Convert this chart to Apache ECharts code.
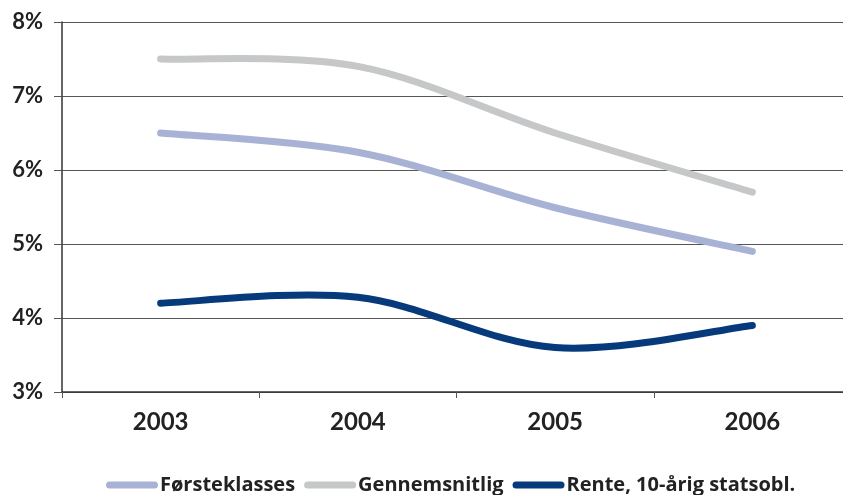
<!DOCTYPE html>
<html>
<head>
<meta charset="utf-8">
<script src="https://cdn.jsdelivr.net/npm/echarts@6/dist/echarts.min.js"></script>
<style>
html,body{margin:0;padding:0;background:#fff;}
#chart{width:843px;height:495px;}
</style>
</head>
<body>
<div id="chart"></div>
<script>
// Years on the category axis
const years = ['2003', '2004', '2005', '2006'];
// Interest rates in percent
const forsteklasses = [6.5, 6.24, 5.49, 4.9];
const gennemsnitlig = [7.5, 7.4, 6.5, 5.7];
const rente10 = [4.2, 4.28, 3.6, 3.9];
// Y axis range (percent)
const yMin = 3, yMax = 8, yStep = 1;

const font = 'Lato, "Open Sans", sans-serif';
const legendFont = '"Open Sans", Lato, sans-serif';

const chart = echarts.init(document.getElementById('chart'), null, {renderer: 'canvas'});

// Smooth curve through the points (cardinal spline, tension 1/6),
// positioned with the chart's own coordinate system.
function splineSeries(name, values, color) {
  return {
    name: name,
    type: 'custom',
    data: values.map((v, i) => [i, v]),
    encode: {x: 0, y: 1},
    itemStyle: {color: color},
    silent: true,
    renderItem: function (params, api) {
      if (params.dataIndex !== 0) return null;
      const pts = values.map((v, i) => api.coord([i, v]));
      const n = pts.length;
      let d = 'M' + pts[0][0] + ',' + pts[0][1];
      for (let i = 0; i < n - 1; i++) {
        const p0 = pts[Math.max(i - 1, 0)], p1 = pts[i], p2 = pts[i + 1], p3 = pts[Math.min(i + 2, n - 1)];
        const c1x = p1[0] + (p2[0] - p0[0]) / 6, c1y = p1[1] + (p2[1] - p0[1]) / 6;
        const c2x = p2[0] - (p3[0] - p1[0]) / 6, c2y = p2[1] - (p3[1] - p1[1]) / 6;
        d += ' C' + c1x + ',' + c1y + ' ' + c2x + ',' + c2y + ' ' + p2[0] + ',' + p2[1];
      }
      return {
        type: 'path',
        shape: {pathData: d},
        style: {fill: 'none', stroke: color, lineWidth: 7, lineCap: 'round', lineJoin: 'round'}
      };
    }
  };
}

// Capsule-shaped legend marker
const capsule = 'path://M3.5,0 L48.5,0 A3.5,3.5 0 0 1 48.5,7 L3.5,7 A3.5,3.5 0 0 1 3.5,0 Z';

chart.setOption({
  animation: false,
  backgroundColor: '#ffffff',
  grid: {left: 62, top: 22, width: 789, height: 370, containLabel: false, outerBoundsMode: 'none'},
  xAxis: {
    type: 'category',
    data: years,
    boundaryGap: true,
    axisLine: {lineStyle: {color: '#333', width: 1.5}},
    axisTick: {show: true, length: 6, lineStyle: {color: '#555'}},
    axisLabel: {color: '#222', fontSize: 24, fontWeight: 'bold', fontFamily: font, margin: 18}
  },
  yAxis: {
    type: 'value',
    min: yMin, max: yMax, interval: yStep,
    axisLine: {show: true, lineStyle: {color: '#333', width: 1.5}},
    axisTick: {show: true, length: 8, lineStyle: {color: '#555'}},
    splitLine: {lineStyle: {color: '#555', width: 1}},
    axisLabel: {formatter: '{value}%', color: '#222', fontSize: 22, fontWeight: 'bold', fontFamily: font, margin: 19}
  },
  legend: {
    top: 470,
    left: 101,
    itemWidth: 52,
    itemHeight: 7,
    itemGap: 9,
    icon: capsule,
    textStyle: {color: '#222', fontSize: 20, fontWeight: 'bold', fontFamily: legendFont, padding: [0, 0, 0, -3]}
  },
  series: [
    splineSeries('Førsteklasses', forsteklasses, '#a8b2d5'),
    splineSeries('Gennemsnitlig', gennemsnitlig, '#c6c7c8'),
    splineSeries('Rente, 10-årig statsobl.', rente10, '#063a7a')
  ]
});
</script>
</body>
</html>
